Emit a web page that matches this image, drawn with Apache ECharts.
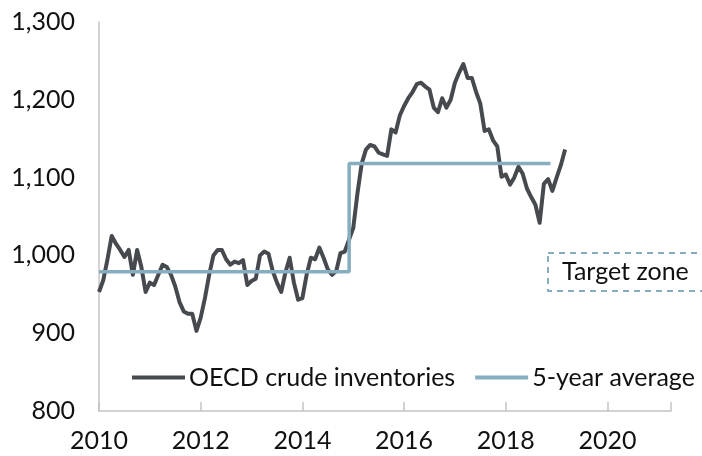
<!DOCTYPE html>
<html>
<head>
<meta charset="utf-8">
<script src="https://cdn.jsdelivr.net/npm/echarts@6/dist/echarts.min.js"></script>
<style>
  html, body { margin: 0; padding: 0; background: #fff; }
  #chart { width: 702px; height: 456px; }
</style>
</head>
<body>
<div id="chart"></div>
<script>
// OECD crude inventories, monthly from Jan 2010 (million barrels)
const startYear = 2010
const inventories = [
  953, 968, 995, 1025, 1015, 1007, 998, 1007, 975, 1007, 985, 953,
  965, 962, 975, 988, 985, 975, 960, 940, 928, 925, 925, 903,
  920, 945, 975, 1000, 1007, 1007, 995, 988, 992, 990, 994, 962,
  967, 970, 1000, 1005, 1002, 980, 965, 953, 978, 997, 965, 943,
  945, 975, 997, 995, 1010, 997, 982, 975, 980, 1003, 1005, 1020,
  1035, 1080, 1118, 1136, 1142, 1140, 1132, 1130, 1128, 1162, 1158, 1180,
  1192, 1202, 1210, 1220, 1222, 1217, 1213, 1190, 1184, 1202, 1190, 1200,
  1222, 1235, 1246, 1228, 1228, 1210, 1195, 1160, 1162, 1148, 1140, 1101,
  1104, 1091, 1100, 1114, 1105, 1086, 1075, 1065, 1042, 1092, 1098, 1083,
  1100, 1116, 1136
]
// 5-year average, step line
const avgYears = [2010, 2014.92, 2014.92, 2018.88]
const avgValues = [979, 979, 1118, 1118]

const yTicks = [800, 900, 1000, 1100, 1200, 1300]
const xTicks = [2010, 2012, 2014, 2016, 2018, 2020]

const font = 'Lato, "Noto Sans", sans-serif'
const axisColor = '#c4c4c4'
const textColor = '#111'

const chart = echarts.init(document.getElementById('chart'))
chart.setOption({
  animation: false,
  textStyle: { fontFamily: font },
  grid: { left: 99, right: 31, top: 22, bottom: 45 },
  legend: {
    left: 127,
    top: 360,
    width: 575,
    itemWidth: 53,
    itemHeight: 4,
    itemGap: 20,
    icon: 'rect',
    textStyle: { fontSize: 25, color: textColor, fontFamily: font, padding: [0, 0, 0, -1] },
    data: ['OECD crude inventories', '5-year average'],
  },
  xAxis: {
    type: 'value',
    min: 2010,
    max: 2021.25,
    interval: 2,
    splitLine: { show: false },
    axisLine: { lineStyle: { color: axisColor, width: 1.5 } },
    axisTick: { inside: true, length: 9, lineStyle: { color: axisColor, width: 1.5 } },
    axisLabel: {
      fontSize: 25,
      color: textColor,
      margin: 17,
      customValues: xTicks,
      formatter: v => String(v),
    },
  },
  yAxis: {
    type: 'value',
    min: 800,
    max: 1300,
    interval: 100,
    splitLine: { show: false },
    axisLine: { show: true, lineStyle: { color: axisColor, width: 1.5 } },
    axisTick: { show: false },
    axisLabel: {
      fontSize: 25,
      color: textColor,
      margin: 24,
      formatter: v => yTicks.includes(v) ? v.toLocaleString('en-US') : '',
    },
  },
  series: [
    {
      name: 'OECD crude inventories',
      type: 'line',
      symbol: 'none',
      z: 2,
      color: '#46494e',
      lineStyle: { width: 4, color: '#46494e', join: 'round' },
      data: inventories.map((v, i) => [startYear + i / 12, v]),
    },
    {
      name: '5-year average',
      type: 'line',
      symbol: 'none',
      z: 3,
      color: '#87adc0',
      lineStyle: { width: 3.5, color: '#87adc0' },
      data: avgYears.map((y, i) => [y, avgValues[i]]),
    },
  ],
  graphic: [
    {
      type: 'rect',
      shape: { x: 548, y: 253, width: 170, height: 38 },
      style: { fill: 'none', stroke: '#87adc0', lineWidth: 2, lineDash: [6, 5] },
    },
    {
      type: 'text',
      left: 562,
      top: 259,
      style: { text: 'Target zone', fontSize: 25, fill: textColor, fontFamily: font },
    },
  ],
})
</script>
</body>
</html>
